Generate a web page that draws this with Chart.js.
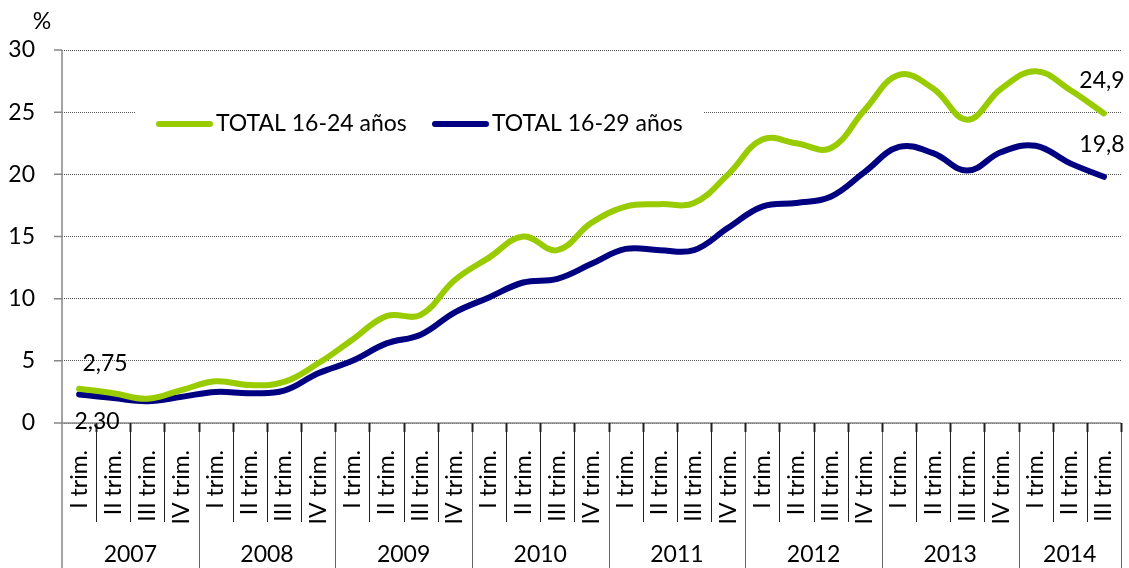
<!DOCTYPE html>
<html>
<head>
<meta charset="utf-8">
<script src="https://cdn.jsdelivr.net/npm/chart.js@4.4.1/dist/chart.umd.min.js"></script>
<style>
html,body{margin:0;padding:0;background:#fff;}
canvas{display:block;}
</style>
</head>
<body>
<canvas id="c" width="1129" height="568"></canvas>
<script>
// ---- data ----
const quarterLabels = [
  "I trim.","II trim.","III trim.","IV trim.",
  "I trim.","II trim.","III trim.","IV trim.",
  "I trim.","II trim.","III trim.","IV trim.",
  "I trim.","II trim.","III trim.","IV trim.",
  "I trim.","II trim.","III trim.","IV trim.",
  "I trim.","II trim.","III trim.","IV trim.",
  "I trim.","II trim.","III trim.","IV trim.",
  "I trim.","II trim.","III trim."
];
const years = ["2007","2008","2009","2010","2011","2012","2013","2014"];
const quartersPerYear = [4,4,4,4,4,4,4,3];
const seriesNames = ["TOTAL 16-24 años","TOTAL 16-29 años"];
const total1624 = [2.75,2.4,1.95,2.65,3.35,3.05,3.3,4.8,6.7,8.6,8.7,11.5,13.3,15.0,13.9,16.1,17.4,17.6,17.7,20.0,22.8,22.5,22.1,25.2,28.0,26.9,24.4,26.9,28.3,26.8,24.9];
const total1629 = [2.30,2.0,1.75,2.1,2.5,2.4,2.6,4.0,5.0,6.4,7.1,8.9,10.1,11.3,11.6,12.8,14.0,13.9,13.9,15.7,17.4,17.7,18.2,20.2,22.2,21.7,20.3,21.8,22.3,20.9,19.8];
const yTicks = [0,5,10,15,20,25,30];
const colors = ["#99CC00","#000080"];

const FONT = "Lato";
const FS = 23;

function fmt(v, d){ return v.toFixed(d).replace('.', ','); }

const decor = {
  id: 'decor',
  beforeDatasetsDraw(chart){
    const ctx = chart.ctx, ca = chart.chartArea;
    const x = chart.scales.x, y = chart.scales.y;
    ctx.save();
    // legend background (interrupts gridline)
    ctx.fillStyle = '#fff';
    ctx.fillRect(135, 100, 568, 46);
    // axis lines
    ctx.strokeStyle = '#868686';
    ctx.lineWidth = 1.5;
    ctx.beginPath();
    ctx.moveTo(ca.left, ca.top); ctx.lineTo(ca.left, chart.height);
    ctx.moveTo(ca.left - 8, y.getPixelForValue(0)); ctx.lineTo(ca.right, y.getPixelForValue(0));
    yTicks.forEach(t => {
      const py = y.getPixelForValue(t);
      ctx.moveTo(ca.left - 8, py); ctx.lineTo(ca.left, py);
    });
    ctx.stroke();
    // category separators
    const n = quarterLabels.length;
    const w = (ca.right - ca.left) / n;
    const yearBounds = new Set();
    let acc = 0;
    quartersPerYear.forEach(q => { acc += q; yearBounds.add(acc); });
    for (let i = 1; i <= n; i++) {
      const px = Math.round(x.getPixelForValue(i - 1) + w / 2) + 0.5;
      const isYear = yearBounds.has(i);
      ctx.beginPath();
      ctx.strokeStyle = isYear ? '#666' : '#222';
      ctx.lineWidth = 1;
      ctx.moveTo(px, ca.bottom); ctx.lineTo(px, isYear ? chart.height : ca.bottom + 99);
      ctx.stroke();
      ctx.beginPath();
      ctx.strokeStyle = '#222';
      ctx.lineWidth = 2;
      ctx.moveTo(px, ca.bottom); ctx.lineTo(px, ca.bottom + 9);
      ctx.stroke();
    }
    // year labels
    ctx.fillStyle = '#000';
    ctx.font = FS + 'px ' + FONT;
    ctx.textAlign = 'center';
    ctx.textBaseline = 'middle';
    let start = 0;
    years.forEach((yr, k) => {
      const q = quartersPerYear[k];
      const x0 = ca.left + start * w, x1 = ca.left + (start + q) * w;
      ctx.fillText(yr, (x0 + x1) / 2, 555);
      start += q;
    });
    ctx.fillText('%', 42, 22);
    // legend
    const items = [{x:157, color: colors[0], text: seriesNames[0]}, {x:433, color: colors[1], text: seriesNames[1]}];
    items.forEach(it => {
      ctx.beginPath();
      ctx.strokeStyle = it.color;
      ctx.lineWidth = 6;
      ctx.lineCap = 'round';
      ctx.moveTo(it.x + 2, 124); ctx.lineTo(it.x + 53, 124);
      ctx.stroke();
      ctx.fillStyle = '#000';
      ctx.textAlign = 'left';
      ctx.fillText(it.text, it.x + 59, 124);
    });
    ctx.restore();
  },
  afterDatasetsDraw(chart){
    const ctx = chart.ctx;
    const x = chart.scales.x, y = chart.scales.y;
    const last = total1624.length - 1;
    ctx.save();
    ctx.fillStyle = '#000';
    ctx.font = FS + 'px ' + FONT;
    ctx.textAlign = 'center';
    ctx.textBaseline = 'middle';
    const lbls = [
      {v: total1624[0], i: 0, d: 2, dx: 26, dy: -25},
      {v: total1629[0], i: 0, d: 2, dx: 18, dy: 27},
      {v: total1624[last], i: last, d: 1, dx: -2, dy: -33},
      {v: total1629[last], i: last, d: 1, dx: -2, dy: -32}
    ];
    lbls.forEach(l => {
      ctx.fillText(fmt(l.v, l.d), x.getPixelForValue(l.i) + l.dx, y.getPixelForValue(l.v) + l.dy);
    });
    ctx.restore();
  }
};

new Chart(document.getElementById('c'), {
  type: 'line',
  data: {
    labels: quarterLabels,
    datasets: [
      {label: seriesNames[0], data: total1624, borderColor: colors[0], backgroundColor: colors[0], borderWidth: 6, pointRadius: 0, tension: 0.4, fill: false, clip: false, borderCapStyle: 'round'},
      {label: seriesNames[1], data: total1629, borderColor: colors[1], backgroundColor: colors[1], borderWidth: 6, pointRadius: 0, tension: 0.4, fill: false, clip: false, borderCapStyle: 'round'}
    ]
  },
  options: {
    responsive: false,
    devicePixelRatio: 1,
    animation: false,
    layout: {padding: {top: 50, right: 8, left: 0, bottom: 0}},
    plugins: {legend: {display: false}, tooltip: {enabled: false}},
    scales: {
      x: {
        offset: true,
        grid: {display: false, drawTicks: false},
        border: {display: false},
        ticks: {autoSkip: false, maxRotation: 90, minRotation: 90, padding: 27, color: '#000', font: {family: FONT, size: FS}},
        afterFit(s){ s.height = 145; s.paddingLeft = 0; s.paddingRight = 0; }
      },
      y: {
        min: 0, max: 30,
        afterBuildTicks(s){ s.ticks = yTicks.map(v => ({value: v})); },
        grid: {color: '#555', lineWidth: 1, drawTicks: false},
        border: {display: false, dash: [1, 1]},
        ticks: {padding: 27, color: '#000', font: {family: FONT, size: FS}},
        afterFit(s){ s.width = 62; s.paddingTop = 0; s.paddingBottom = 0; }
      }
    }
  },
  plugins: [decor]
});
</script>
</body>
</html>
